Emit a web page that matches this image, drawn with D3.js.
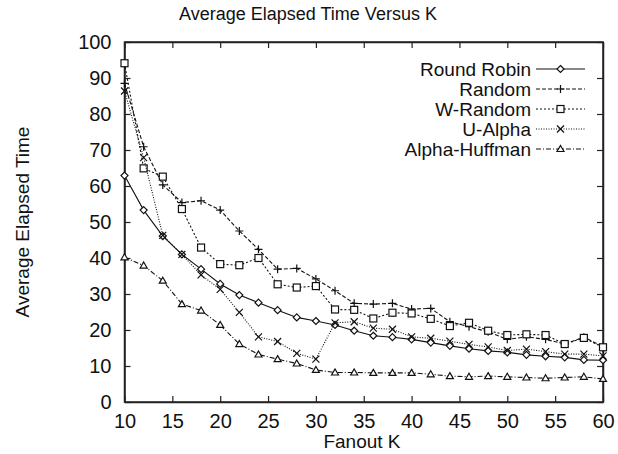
<!DOCTYPE html>
<html>
<head>
<meta charset="utf-8">
<script src="https://cdn.jsdelivr.net/npm/d3@7"></script>
<style>
  body { margin: 0; background: #fff; }
  text { font-family: "Liberation Sans", Arial, sans-serif; fill: #111; }
</style>
</head>
<body>
<svg width="618" height="454"></svg>
<script>
// fanout values on x
let fanout = [10,12,14,16,18,20,22,24,26,28,30,32,34,36,38,40,42,44,46,48,50,52,54,56,58,60]

let roundRobin = [62.9,53.3,46.1,41.0,36.9,32.8,29.7,27.6,25.5,23.5,22.5,21.4,19.8,18.4,18.0,17.4,16.5,15.6,14.8,14.2,13.8,13.1,12.7,12.4,11.7,11.6]
let random = [88.5,70.9,60.3,55.4,55.9,53.3,47.5,42.4,36.9,37.1,34.2,30.9,27.4,27.2,27.4,25.8,26.0,22.3,20.9,19.5,17.4,18.1,17.4,16.1,18.0,15.4]
let wRandom = [94.1,64.9,62.6,53.6,42.9,38.3,38.0,40.0,32.7,31.8,32.2,25.7,25.6,23.2,24.8,24.6,23.1,21.1,22.0,19.8,18.6,18.8,18.6,16.1,17.8,15.2]
let uAlpha = [86.4,67.9,46.3,41.0,35.3,31.3,24.9,18.1,16.8,13.5,11.9,22.0,22.3,20.5,20.2,18.1,17.7,16.9,16.0,15.3,14.3,14.7,14.0,13.3,13.3,12.8]
let alphaHuffman = [40.2,37.9,33.7,27.2,25.4,21.4,16.1,13.2,11.9,10.7,8.9,8.2,8.2,8.1,8.1,8.1,7.7,7.2,7.0,7.2,7.0,6.8,6.6,6.8,7.0,6.4]

let seriesNames = ['Round Robin', 'Random', 'W-Random', 'U-Alpha', 'Alpha-Huffman']
let seriesValues = [roundRobin, random, wRandom, uAlpha, alphaHuffman]
let dashes = ['none', '4,2', '2,2', '1,1.5', '5,2,1,2']
let markers = ['diamond', 'plus', 'square', 'cross', 'triangle']

let xTicks = [10,15,20,25,30,35,40,45,50,55,60]
let yTicks = [0,10,20,30,40,50,60,70,80,90,100]

let margin = { top: 42, right: 15, bottom: 52, left: 124.5 }
let width = 618 - margin.left - margin.right
let height = 454 - margin.top - margin.bottom

let svg = d3.select('svg')
let chart = svg.append('g')
    .attr('transform', 'translate(' + margin.left + ',' + margin.top + ')')

let x = d3.scaleLinear().domain([10, 60]).range([0, width])
let y = d3.scaleLinear().domain([0, 100]).range([height, 0])

// axes, ticks pointing inward
chart.append('g').attr('class', 'axis x')
    .attr('transform', 'translate(0,' + height + ')')
    .call(d3.axisBottom(x).tickValues(xTicks).tickSizeInner(-6).tickSizeOuter(0).tickPadding(12))
chart.append('g').attr('class', 'axis y')
    .call(d3.axisLeft(y).tickValues(yTicks).tickSizeInner(-6).tickSizeOuter(0).tickPadding(13))
chart.append('g')
    .call(d3.axisTop(x).tickValues(xTicks).tickSizeInner(-6).tickSizeOuter(0).tickFormat(''))
chart.append('g')
    .attr('transform', 'translate(' + width + ',0)')
    .call(d3.axisRight(y).tickValues(yTicks).tickSizeInner(-6).tickSizeOuter(0).tickFormat(''))

chart.selectAll('.domain').attr('stroke', '#222').attr('stroke-width', 1.5)
chart.selectAll('.tick line').attr('stroke', '#222').attr('stroke-width', 1.2)
chart.selectAll('.tick text').attr('font-size', 20).attr('fill', '#111')
    .attr('font-family', '"Liberation Sans", Arial, sans-serif')

// box border
chart.append('rect')
    .attr('width', width).attr('height', height)
    .attr('fill', 'none').attr('stroke', '#222').attr('stroke-width', 1.5)

function drawMarker(g, type, cx, cy) {
  if (type == 'diamond') {
    g.append('path').attr('d', `M${cx},${cy-3.5}L${cx+3.5},${cy}L${cx},${cy+3.5}L${cx-3.5},${cy}Z`)
      .attr('fill', 'white').attr('stroke', '#111').attr('stroke-width', 1.2)
  } else if (type == 'plus') {
    g.append('path').attr('d', `M${cx-4},${cy}H${cx+4}M${cx},${cy-4}V${cy+4}`)
      .attr('stroke', '#111').attr('stroke-width', 1.2)
  } else if (type == 'square') {
    g.append('rect').attr('x', cx-3.5).attr('y', cy-3.5).attr('width', 7).attr('height', 7)
      .attr('fill', 'white').attr('stroke', '#111').attr('stroke-width', 1.2)
  } else if (type == 'cross') {
    g.append('path').attr('d', `M${cx-3.5},${cy-3.5}L${cx+3.5},${cy+3.5}M${cx-3.5},${cy+3.5}L${cx+3.5},${cy-3.5}`)
      .attr('stroke', '#111').attr('stroke-width', 1.2)
  } else {
    g.append('path').attr('d', `M${cx},${cy-3.5}L${cx+3.5},${cy+2.5}L${cx-3.5},${cy+2.5}Z`)
      .attr('fill', 'white').attr('stroke', '#111').attr('stroke-width', 1.2)
  }
}

let line = d3.line().x((d, i) => x(fanout[i])).y(d => y(d))

seriesValues.forEach(function (vals, s) {
  chart.append('path')
      .datum(vals)
      .attr('d', line)
      .attr('fill', 'none')
      .attr('stroke', '#111')
      .attr('stroke-width', 1.1)
      .attr('stroke-dasharray', dashes[s])
  let g = chart.append('g')
  vals.forEach(function (v, i) {
    drawMarker(g, markers[s], x(fanout[i]), y(v))
  })
})

// legend
let legend = svg.append('g')
seriesNames.forEach(function (name, s) {
  let ly = 69 + s * 20
  legend.append('text')
      .attr('x', 531).attr('y', ly + 7)
      .attr('text-anchor', 'end')
      .attr('font-size', 19)
      .text(name)
  legend.append('line')
      .attr('x1', 536).attr('x2', 585).attr('y1', ly).attr('y2', ly)
      .attr('stroke', '#111').attr('stroke-width', 1.1)
      .attr('stroke-dasharray', dashes[s])
  drawMarker(legend, markers[s], 560.5, ly)
})

svg.append('text')
    .attr('x', 308).attr('y', 20)
    .attr('text-anchor', 'middle')
    .attr('font-size', 18)
    .text('Average Elapsed Time Versus K')

svg.append('text')
    .attr('x', 362).attr('y', 448)
    .attr('text-anchor', 'middle')
    .attr('font-size', 19)
    .text('Fanout K')

svg.append('text')
    .attr('transform', 'translate(29,222) rotate(-90)')
    .attr('text-anchor', 'middle')
    .attr('font-size', 19)
    .text('Average Elapsed Time')
</script>
</body>
</html>
